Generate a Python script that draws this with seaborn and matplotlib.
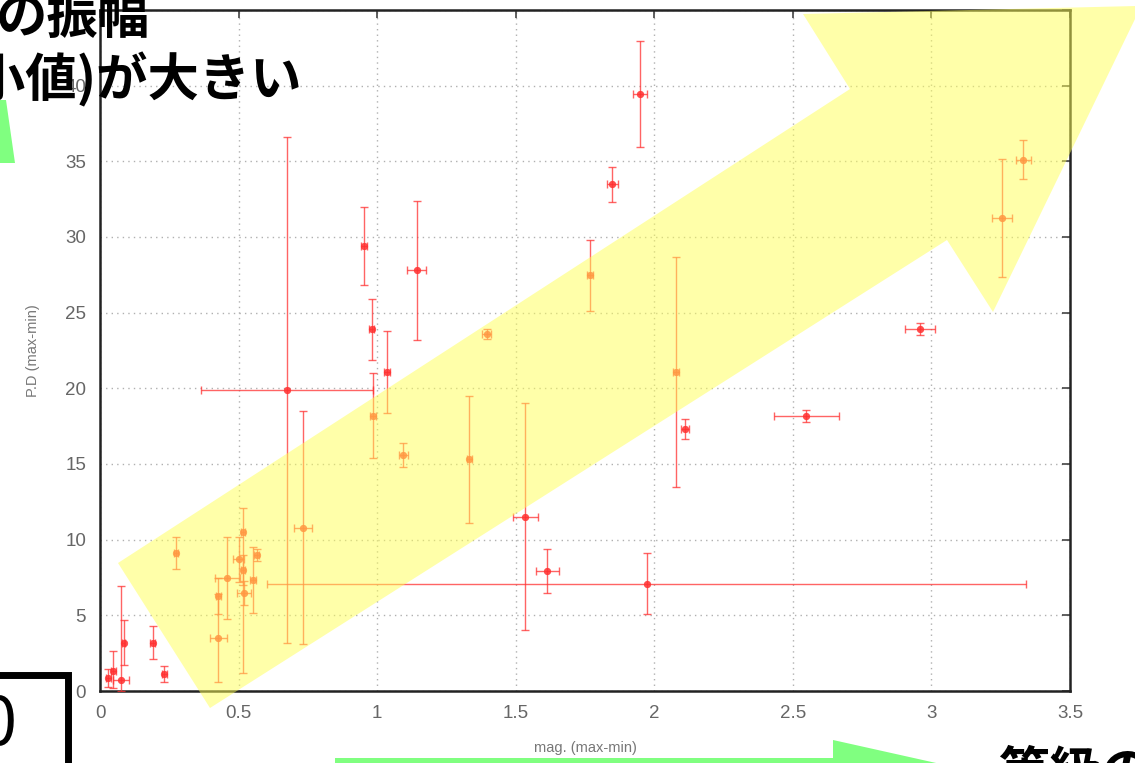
import numpy as np
import pandas as pd
import matplotlib
matplotlib.use("Agg")
import matplotlib.pyplot as plt
import seaborn as sns
from matplotlib.patches import Polygon, Rectangle

# ---- data ----
mag = [0.030, 0.048, 0.085, 0.075, 0.190, 0.232, 0.274, 0.427, 0.427, 0.460,
       0.500, 0.515, 0.515, 0.520, 0.553, 0.565, 0.675, 0.733, 0.953, 0.980,
       0.986, 1.035, 1.095, 1.143, 1.333, 1.395, 1.535, 1.614, 1.768, 1.849,
       1.949, 1.973, 2.079, 2.111, 2.548, 2.960, 3.254, 3.332]
pdv = [0.85, 1.30, 3.20, 0.75, 3.20, 1.12, 9.10, 6.27, 3.48, 7.45,
       8.70, 10.50, 8.00, 6.45, 7.33, 9.00, 19.90, 10.80, 29.40, 23.90,
       18.20, 21.10, 15.60, 27.80, 15.30, 23.60, 11.50, 7.92, 27.46, 33.47,
       39.45, 7.10, 21.10, 17.34, 18.20, 23.94, 31.27, 35.10]
mag_err = [0.008, 0.008, 0.005, 0.028, 0.010, 0.010, 0.008, 0.008, 0.030, 0.045,
           0.020, 0.008, 0.008, 0.025, 0.010, 0.010, 0.310, 0.033, 0.010, 0.010,
           0.010, 0.010, 0.015, 0.035, 0.010, 0.015, 0.045, 0.042, 0.010, 0.021,
           0.026, 1.370, 0.010, 0.015, 0.117, 0.054, 0.037, 0.028]
pd_err_lo = [0.60, 1.10, 1.50, 0.75, 1.10, 0.50, 1.05, 1.20, 2.90, 2.70,
             1.50, 9.30, 1.00, 0.80, 2.20, 0.40, 16.70, 7.70, 2.60, 2.00,
             2.80, 2.70, 0.80, 4.60, 4.20, 0.35, 7.50, 1.45, 2.35, 1.18,
             3.50, 2.00, 7.60, 0.66, 0.40, 0.40, 3.90, 1.30]
pd_err_hi = [0.60, 1.35, 1.50, 6.20, 1.10, 0.50, 1.05, 1.20, 2.90, 2.70,
             1.50, 1.60, 1.00, 0.80, 2.20, 0.40, 16.70, 7.70, 2.60, 2.00,
             2.80, 2.70, 0.80, 4.60, 4.20, 0.35, 7.50, 1.45, 2.35, 1.18,
             3.50, 2.00, 7.60, 0.66, 0.40, 0.40, 3.90, 1.30]

x_ticks = [0, 0.5, 1, 1.5, 2, 2.5, 3, 3.5]
x_tick_labels = ["0", "0.5", "1", "1.5", "2", "2.5", "3", "3.5"]
y_ticks = [0, 5, 10, 15, 20, 25, 30, 35, 40, 45]
y_tick_labels = ["0", "5", "10", "15", "20", "25", "30", "35", "40", ""]
x_label = "mag. (max-min)"
y_label = "P.D (max-min)"
overlay_line1 = "の振幅"
overlay_line2 = "(最小値)が大きい"
overlay_box_text = "10"
overlay_bottom_text = "等級の振幅"

df = pd.DataFrame({"mag": mag, "pd": pdv})

sns.set_style("white")
plt.rcParams["font.family"] = ["Noto Sans CJK JP", "DejaVu Sans"]

W, H = 1135, 763
fig = plt.figure(figsize=(W / 100, H / 100), dpi=100)
L, R, T, B = 100, 1070, 10, 691
ax = fig.add_axes([L / W, 1 - B / H, (R - L) / W, (B - T) / H])

red = "#ff3030"
ax.errorbar(mag, pdv, xerr=mag_err, yerr=[pd_err_lo, pd_err_hi], fmt="none",
            ecolor=red, elinewidth=1.0, capsize=3.2, capthick=1.0, alpha=0.75, zorder=3)
sns.scatterplot(data=df, x="mag", y="pd", ax=ax, color=red, marker="o", s=22,
                edgecolor=red, linewidth=0.5, alpha=0.85, zorder=4, legend=False)

ax.set_xlim(0, 3.5)
ax.set_ylim(0, 45)
ax.set_xticks(x_ticks)
ax.set_xticklabels(x_tick_labels)
ax.set_yticks(y_ticks)
ax.set_yticklabels(y_tick_labels)
ax.grid(True, color="#b0b0b0", linestyle=(0, (1, 3)), linewidth=1.0)
ax.tick_params(axis="both", direction="in", length=6, width=1.2, color="#444444",
               top=True, right=True, labelcolor="#666666", labelsize=13.5, pad=10)
for lab in ax.get_xticklabels() + ax.get_yticklabels():
    lab.set_family(["Liberation Sans", "DejaVu Sans"])
for sp in ax.spines.values():
    sp.set_color("#222222")
    sp.set_linewidth(1.8)
ax.set_xlabel(x_label, fontsize=10.5, color="#777777", family=["Liberation Sans", "DejaVu Sans"], labelpad=14)
ax.set_ylabel(y_label, fontsize=10.5, color="#777777", family=["Liberation Sans", "DejaVu Sans"], labelpad=18)


def P(x, y):
    return (x / W, 1 - y / H)


# yellow arrow overlay
yellow_pts = [(118, 563), (850, 89), (803, 14), (1136, 6), (1136, 17),
              (993, 312), (947, 240), (210, 708)]
fig.add_artist(Polygon([P(*p) for p in yellow_pts], closed=True, transform=fig.transFigure,
                       facecolor="#ffff55", edgecolor="none", alpha=0.5, zorder=10))

# green shapes
green = "#80ff80"
fig.add_artist(Polygon([P(*p) for p in [(-2, 100), (6, 100), (15, 163), (-2, 163)]], closed=True,
                       transform=fig.transFigure, facecolor=green, edgecolor="none", zorder=11))
fig.add_artist(Polygon([P(*p) for p in [(335, 758), (833, 758), (833, 740), (990, 775), (335, 775)]],
                       closed=True, transform=fig.transFigure, facecolor=green, edgecolor="none", zorder=11))

# black box bottom-left
bx0, by0 = P(-20, 800)
bx1, by1 = P(68, 675)
fig.add_artist(Rectangle((bx0, by0), bx1 - bx0, by1 - by0, transform=fig.transFigure,
                         facecolor="white", edgecolor="black", linewidth=5, zorder=11))
fig.text(*P(17, 745), overlay_box_text, ha="right", va="baseline", fontsize=48,
         color="black", zorder=12)

# overlay texts
fig.text(*P(150, 33), overlay_line1, ha="right", va="baseline", fontsize=37,
         fontweight="bold", color="black", zorder=12)
fig.text(*P(302, 96), overlay_line2, ha="right", va="baseline", fontsize=37,
         fontweight="bold", color="black", zorder=12)
fig.text(*P(998, 789), overlay_bottom_text, ha="left", va="baseline", fontsize=37,
         fontweight="bold", color="black", zorder=12)

fig.savefig("out.png", dpi=100)
